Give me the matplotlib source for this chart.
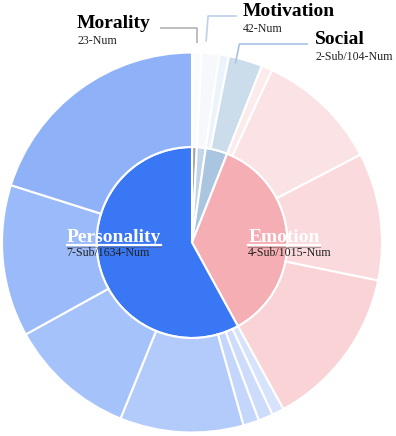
import matplotlib
matplotlib.use("Agg")
import matplotlib.pyplot as plt
import numpy as np

# inner ring: top-level categories (clockwise from 12 o'clock)
categories = ['Morality', 'Motivation', 'Social', 'Emotion', 'Personality']
category_counts = [23, 42, 104, 1015, 1634]
category_subs = [0, 0, 2, 4, 7]
inner_colors = ['#A6A6A6', '#C3D5E9', '#A9C5DF', '#F5AFB4', '#3A77F5']

# outer ring: sub-categories, same order
sub_counts = [23, 42,                     # Morality, Motivation
              23, 81,                     # Social
              26, 294, 306, 389,          # Emotion
              29, 35, 38, 296, 305, 364, 567]  # Personality
outer_colors = ['#FBFBFC', '#F6F8FC',
                '#EDF3FA', '#CBDCEB',
                '#FCEBED', '#FBE2E4', '#FADADD', '#F9D3D6',
                '#D7E3FC', '#CEDCFC', '#C4D6FB', '#B3CBFB', '#A6C2FA', '#9BBAF9', '#8FB1F8']

W, H = 396, 436
CX, CY, R = 192, 242.5, 190
R_IN = 95.5 / R
SERIF = 'Liberation Serif'


def px(x, y):
    """pixel position (from top-left) -> data coords"""
    return (x - CX) / R, (CY - y) / R


fig = plt.figure(figsize=(W / 100, H / 100), dpi=100)
ax = fig.add_axes([(CX - R) / W, (H - CY - R) / H, 2 * R / W, 2 * R / H])

inner, _ = ax.pie(category_counts, radius=R_IN, colors=inner_colors, startangle=90,
                  counterclock=False, wedgeprops=dict(edgecolor='white', linewidth=1.5))
ax.pie(sub_counts, radius=1.0, colors=outer_colors, startangle=90, counterclock=False,
       wedgeprops=dict(width=1 - R_IN, edgecolor='white', linewidth=1.5))
ax.set_xlim(-1, 1)
ax.set_ylim(-1, 1)
ax.axis('off')

# small categories: labels outside with elbow leader lines
outside = {
    # name: (fraction along wedge, anchor radius, elbow y px, elbow dx px, line end x px, text x px, colour)
    'Morality':   (0.5, 1.05, 28, 0, 160, 77, '#B3B3B3'),
    'Motivation': (0.2, 1.06, 16, 2, 237, 243, '#BCD0EA'),
    'Social':     (0.4, 0.97, 44, 4, 308, 315, '#A9C3E3'),
}
for i, name in enumerate(categories):
    if name not in outside:
        continue
    frac, ra, ey, edx, ex, tx, col = outside[name]
    w = inner[i]
    ang = np.deg2rad(w.theta2 - frac * (w.theta2 - w.theta1))
    ax_, ay_ = ra * np.cos(ang), ra * np.sin(ang)
    bx = ax_ + edx / R
    by = px(0, ey)[1]
    ax.plot([ax_, bx, px(ex, 0)[0]], [ay_, by, by], color=col, lw=1.2,
            solid_capstyle='butt', clip_on=False)
    ax.text(px(tx, 0)[0], by, name, fontsize=14, fontweight='bold', family=SERIF,
            ha='left', va='baseline', color='black')
    if category_subs[i]:
        sub = f'{category_subs[i]}-Sub/{category_counts[i]}-Num'
    else:
        sub = f'{category_counts[i]}-Num'
    ax.text(px(tx, 0)[0], by - 15.5 / R, sub, fontsize=8.6, family=SERIF,
            ha='left', va='baseline', color='#222222')

# big categories: labels inside the inner ring
inside = {'Personality': 66.7, 'Emotion': 248.3}
titles = []
for i, name in enumerate(categories):
    if name not in inside:
        continue
    x0 = px(inside[name], 0)[0]
    y0 = px(0, 242)[1]
    t = ax.text(x0, y0, name, fontsize=14, fontweight='bold', family=SERIF,
                ha='left', va='baseline', color='white')
    titles.append(t)
    ax.text(x0, y0 - 14.5 / R, f'{category_subs[i]}-Sub/{category_counts[i]}-Num',
            fontsize=8.6, family=SERIF, ha='left', va='baseline', color='#222222')

# underline the inner titles
fig.canvas.draw()
renderer = fig.canvas.get_renderer()
inv = ax.transData.inverted()
for t in titles:
    bb = t.get_window_extent(renderer)
    xa = inv.transform((bb.x0, 0))[0]
    xb = inv.transform((bb.x1, 0))[0]
    uy = px(0, 245.5)[1]
    ax.plot([xa, xb], [uy - 1.2 / R, uy - 1.2 / R], color='#555555', lw=0.8, alpha=0.5)
    ax.plot([xa, xb], [uy, uy], color='white', lw=1.6)

fig.savefig('out.png', dpi=100)
